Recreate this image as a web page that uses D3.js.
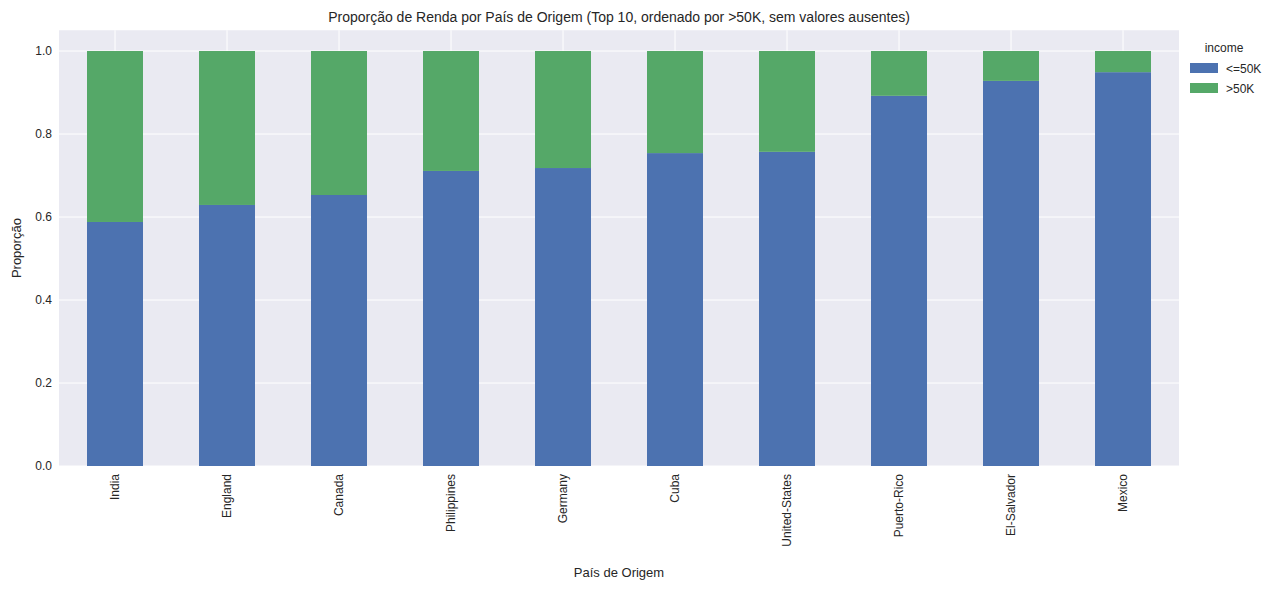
<!DOCTYPE html>
<html><head><meta charset="utf-8">
<script src="https://cdn.jsdelivr.net/npm/d3@7"></script>
<style>body{margin:0;background:#fff;font-family:Arial,"Liberation Sans",sans-serif}</style>
</head><body><svg id="c" width="1287" height="590"></svg>
<script>
var countries = ["India","England","Canada","Philippines","Germany","Cuba","United-States","Puerto-Rico","El-Salvador","Mexico"];
var lowIncome = [0.588,0.629,0.653,0.711,0.718,0.754,0.757,0.892,0.928,0.949];
var highIncome = lowIncome.map(function(v){ return 1 - v; });
var seriesNames = ["<=50K", ">50K"];
var colors = ["#4C72B0", "#55A868"];
var yTicks = [0,0.2,0.4,0.6,0.8,1.0];

var svg = d3.select("#c");
var m = {l:59, r:1179, t:30, b:466};
var x = d3.scaleBand().domain(countries).range([m.l, m.r]).paddingInner(0.5).paddingOuter(0.25);
var y = d3.scaleLinear().domain([0,1.05]).range([m.b, m.b - 415*1.05]);

svg.append("rect").attr("x", m.l).attr("y", y(1.05)).attr("width", m.r-m.l).attr("height", m.b-y(1.05)).attr("fill","#EAEAF2");
svg.selectAll(".gy").data(yTicks).enter().append("line")
  .attr("x1",m.l).attr("x2",m.r).attr("y1",function(d){return y(d);}).attr("y2",function(d){return y(d);})
  .attr("stroke","#fff").attr("stroke-width",1);
svg.selectAll(".gx").data(countries).enter().append("line")
  .attr("x1",function(d){return x(d)+x.bandwidth()/2;}).attr("x2",function(d){return x(d)+x.bandwidth()/2;})
  .attr("y1",y(1.05)).attr("y2",m.b).attr("stroke","#fff").attr("stroke-width",1);

var data = countries.map(function(c,i){ return {c:c, "<=50K":lowIncome[i], ">50K":highIncome[i]}; });
var stack = d3.stack().keys(seriesNames)(data);
svg.selectAll(".s").data(stack).enter().append("g").attr("fill",function(d,i){return colors[i];})
  .selectAll("rect").data(function(d){return d;}).enter().append("rect")
  .attr("x",function(d){return x(d.data.c);}).attr("width",x.bandwidth())
  .attr("y",function(d){return y(d[1]);}).attr("height",function(d){return y(d[0])-y(d[1]);});

svg.selectAll(".yt").data(yTicks).enter().append("text")
  .attr("x",m.l-7).attr("y",function(d){return y(d)+4;}).attr("text-anchor","end")
  .attr("font-size",12).attr("fill","#262626").text(function(d){return d.toFixed(1);});
svg.selectAll(".xt").data(countries).enter().append("text")
  .attr("transform",function(d){return "translate("+(x(d)+x.bandwidth()/2+4)+","+(m.b+8)+") rotate(-90)";})
  .attr("text-anchor","end").attr("font-size",12).attr("fill","#262626").text(function(d){return d;});

svg.append("text").attr("x",(m.l+m.r)/2).attr("y",22).attr("text-anchor","middle").attr("font-size",14).attr("fill","#262626")
  .text("Proporção de Renda por País de Origem (Top 10, ordenado por >50K, sem valores ausentes)");
svg.append("text").attr("x",(m.l+m.r)/2).attr("y",577).attr("text-anchor","middle").attr("font-size",13).attr("fill","#262626").text("País de Origem");
svg.append("text").attr("transform","translate(21,"+((m.b+y(1.05))/2)+") rotate(-90)").attr("text-anchor","middle").attr("font-size",13).attr("fill","#262626").text("Proporção");

var lg = svg.append("g").attr("transform","translate(1190,40)");
lg.append("text").attr("x",34).attr("y",12).attr("text-anchor","middle").attr("font-size",12).attr("fill","#262626").text("income");
seriesNames.forEach(function(n,i){
  lg.append("rect").attr("x",0).attr("y",23+i*20).attr("width",28).attr("height",10).attr("fill",colors[i]);
  lg.append("text").attr("x",36).attr("y",33+i*20).attr("font-size",12).attr("fill","#262626").text(n);
});
</script></body></html>
